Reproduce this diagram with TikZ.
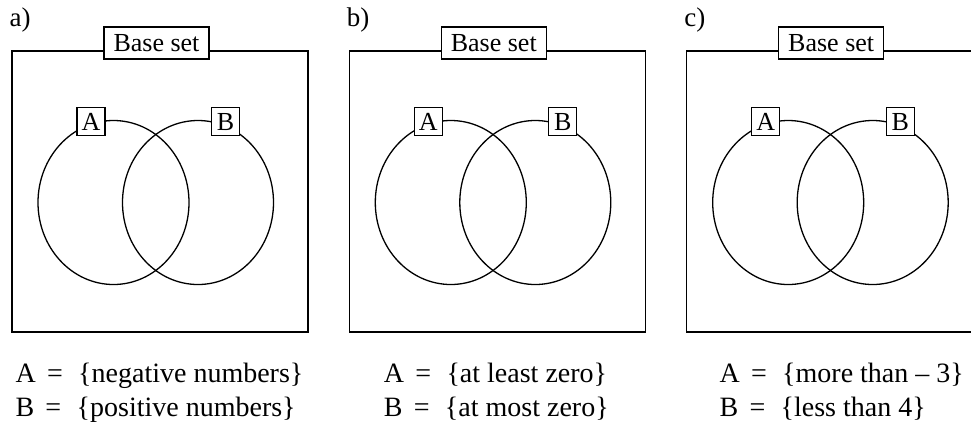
\documentclass[tikz,border=0pt]{standalone}
\usepackage{fontspec}
\setmainfont{Liberation Serif}
\begin{document}
\begin{tikzpicture}[x=0.5pt, y=-0.5pt, line width=0.65pt,
    setbox/.style={draw, fill=white, inner sep=0pt, font=\fontsize{13}{15}\selectfont,
      minimum width=52.5pt, minimum height=16pt},
    tagbox/.style={draw, fill=white, inner sep=0pt, font=\fontsize{13}{15}\selectfont,
      minimum size=14pt},
    rule/.style={anchor=base west, inner sep=0pt, font=\fontsize{14}{17}\selectfont}]
    \useasboundingbox (0,0) rectangle (971,430);

    \foreach \L/\tag/\ra/\rb/\rx in {12/a/{negative numbers}/{positive numbers}/3,
        349.3/b/{at least zero}/{at most zero}/34,
        686.7/c/{more than -- 3}/{less than 4}/32.3} {
      % base set with the two sets
      \draw (\L,51) rectangle ++(296,281);
      \node[setbox] (base-\tag) at (\L+144.5,43) {Base set};
      \draw (\L+101.5,202.5) ellipse [x radius=75.5, y radius=82];
      \draw (\L+186,202.5) ellipse [x radius=75.5, y radius=82];
      \node[tagbox] (A-\tag) at (\L+79,121.6) {A};
      \node[tagbox] (B-\tag) at (\L+213.5,121.6) {B};
      \node[anchor=base west, inner sep=0pt, font=\fontsize{13.5}{15}\selectfont]
        (lbl-\tag) at (\L-3,26.5) {\tag)};
      % definitions below
      \node[rule] (ra-\tag) at (\L+\rx,382.5) {A\hspace{0.4em}=\hspace{0.55em}\{\ra\}};
      \node[rule] (rb-\tag) at (\L+\rx,416) {B\hspace{0.4em}=\hspace{0.55em}\{\rb\}};
    }
  \end{tikzpicture}
\end{document}
